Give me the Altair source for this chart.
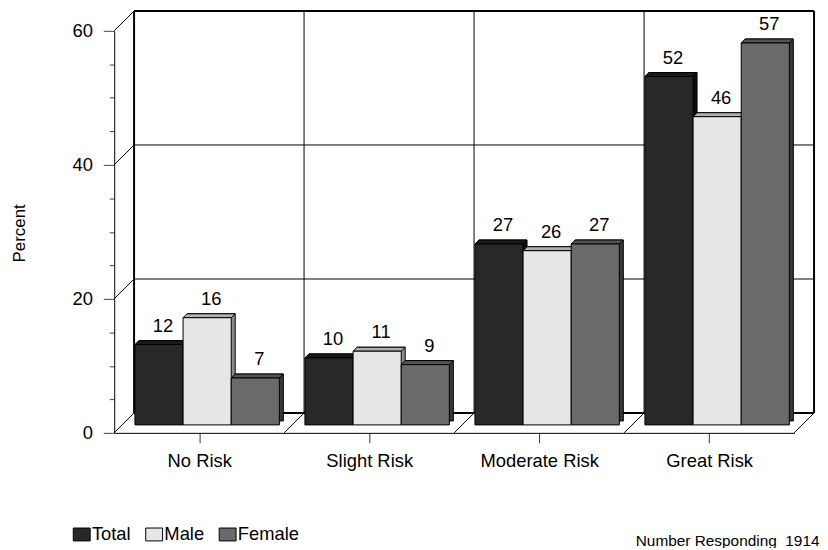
import json
import altair as alt
import pandas as pd

# ---------------- data ----------------
categories = ["No Risk", "Slight Risk", "Moderate Risk", "Great Risk"]
series = ["Total", "Male", "Female"]
total = [12, 10, 27, 52]
male = [16, 11, 26, 46]
female = [7, 9, 27, 57]
y_major = [0, 20, 40, 60]
y_minor_step = 5
note = "Number Responding\u00a0 1914"
y_title = "Percent"

# ---------------- style ----------------
front_colors = ["#282828", "#e6e6e6", "#6a6a6a"]
top_colors = ["#1a1a1a", "#b0b0b0", "#545454"]
side_colors = ["#0d0d0d", "#8c8c8c", "#383838"]
FONT = "Liberation Sans"
W, H = 685, 405
D = 20            # depth of the back wall / floor
BX, BY = 8, -8    # offset of the bars' front faces
BD = 4            # depth of each bar
PAD_OUT = 0.2655
NS = len(series)
sub_w = (W / len(categories)) / (NS + 2 * PAD_OUT)
half = sub_w / 2
d = BD / half
TOP_PATH = f"M -1 0 L 1 0 L {1 + d:.4f} {-d:.4f} L {-1 + d:.4f} {-d:.4f} Z"
TOP_SIZE = sub_w ** 2
LEG_PATH = "M -1 -0.765 L 1 -0.765 L 1 0.765 L -1 0.765 Z"

rows = []
for s, vals in zip(series, [total, male, female]):
    for c, v in zip(categories, vals):
        rows.append({"category": c, "series": s, "value": v})
bars_df = pd.DataFrame(rows)

n = len(categories)
ymax = y_major[-1]
major_step = y_major[1] - y_major[0]
bounds_df = pd.DataFrame({"b": list(range(n + 1))})
grid_df = pd.DataFrame({"v": y_major})

yscale = alt.Scale(domain=[0, ymax], nice=False, zero=True)
xq = alt.Scale(domain=[0, n], nice=False, zero=False)

xaxis = alt.Axis(
    title=note, values=[i + 0.5 for i in range(n)],
    labelExpr=f"{json.dumps(categories)}[floor(datum.value)]",
    labelAngle=0, labelFont=FONT, labelFontSize=18.5, labelColor="black",
    labelPadding=9, labelOverlap=False, tickSize=10, tickColor="#333333",
    domainColor="black", domainWidth=1,
    titleFont=FONT, titleFontSize=15.5, titleFontWeight="normal", titleColor="black",
    titleX=710, titleY=113, titleAlign="right", titleBaseline="alphabetic", grid=False,
)
yaxis = alt.Axis(
    values=list(range(0, ymax + 1, y_minor_step)),
    labelExpr=f"datum.value % {major_step} === 0 ? datum.label : ''",
    labelOverlap=False,
    title=y_title, grid=False, domainColor="black", domainWidth=1, tickColor="#444444",
    tickSize={"condition": {"test": f"datum.value % {major_step} === 0", "value": 11}, "value": 5},
    labelFont=FONT, labelFontSize=18.5, labelColor="black", labelPadding=11,
    titleFont=FONT, titleFontSize=17, titleFontWeight="normal", titleColor="black",
    titleX=-90, titleY=203.5, titleAlign="center", titleBaseline="alphabetic",
)


def X(field):
    return alt.X(field, scale=xq, axis=xaxis)


def Y(field):
    return alt.Y(field, scale=yscale, axis=yaxis)


# ---------------- 3-D frame ----------------
back_vert = alt.Chart(bounds_df).transform_calculate(
    y0="0", y1=str(ymax), w=f"datum.b == 0 || datum.b == {n} ? 2 : 1"
).mark_rule(color="black", xOffset=D, yOffset=-D, y2Offset=-D).encode(
    x=X("b:Q"), y=Y("y0:Q"), y2="y1:Q",
    strokeWidth=alt.StrokeWidth("w:Q", scale=None),
)

back_horiz = alt.Chart(grid_df).transform_calculate(
    x0="0", x1=str(n), w=f"datum.v == 0 || datum.v == {ymax} ? 2 : 1"
).mark_rule(color="black", xOffset=D, x2Offset=D, yOffset=-D).encode(
    x=X("x0:Q"), x2="x1:Q", y=Y("v:Q"),
    strokeWidth=alt.StrokeWidth("w:Q", scale=None),
)

left_diag = alt.Chart(grid_df).transform_calculate(x0="0").mark_rule(
    color="black", strokeWidth=1, x2Offset=D, y2Offset=-D
).encode(x=X("x0:Q"), x2="x0:Q", y=Y("v:Q"), y2="v:Q")

floor_diag = alt.Chart(bounds_df).transform_filter("datum.b > 0").transform_calculate(
    y0="0"
).mark_rule(color="black", strokeWidth=1, x2Offset=D, y2Offset=-D).encode(
    x=X("b:Q"), x2="b:Q", y=Y("y0:Q"), y2="y0:Q"
)

# ---------------- bars ----------------
den = NS + 2 * PAD_OUT
base = alt.Chart(bars_df).transform_calculate(
    ci=f"indexof({json.dumps(categories)}, datum.category)",
    si=f"indexof({json.dumps(series)}, datum.series)",
).transform_calculate(
    xl=f"datum.ci + ({PAD_OUT} + datum.si) / {den}",
    zero="0",
).transform_calculate(
    xr=f"datum.xl + 1 / {den}",
).transform_calculate(
    xc="(datum.xl + datum.xr) / 2",
)

side = base.mark_rect(
    stroke="black", strokeWidth=1, opacity=1,
    xOffset=BX + BD, x2Offset=BX + BD, yOffset=BY - BD, y2Offset=BY - BD,
).encode(
    x=X("xl:Q"), x2="xr:Q", y=Y("value:Q"), y2="zero:Q",
    color=alt.Color("series:N", sort=series,
                    scale=alt.Scale(domain=series, range=side_colors), legend=None),
)

top = base.mark_point(
    shape=TOP_PATH, size=TOP_SIZE, filled=True, stroke="black", strokeWidth=1,
    opacity=1, xOffset=BX, yOffset=BY,
).encode(
    x=X("xc:Q"), y=Y("value:Q"),
    color=alt.Color("series:N", sort=series,
                    scale=alt.Scale(domain=series, range=top_colors), legend=None),
)

legend = alt.Legend(
    orient="none", legendX=-42, legendY=498, direction="horizontal", title=None,
    symbolType=LEG_PATH, symbolSize=289, symbolStrokeColor="black", symbolStrokeWidth=1,
    symbolOpacity=1, labelFont=FONT, labelFontSize=18.5, labelColor="black",
    labelOffset=1, columnPadding=12, padding=0,
)

front = base.mark_rect(
    stroke="black", strokeWidth=1, opacity=1,
    xOffset=BX, x2Offset=BX, yOffset=BY, y2Offset=BY,
).encode(
    x=X("xl:Q"), x2="xr:Q", y=Y("value:Q"), y2="zero:Q",
    color=alt.Color("series:N", sort=series,
                    scale=alt.Scale(domain=series, range=front_colors), legend=legend),
)

labels = base.mark_text(
    xOffset=BX + 4, yOffset=-21, baseline="alphabetic", align="center",
    font=FONT, fontSize=18.5, color="black",
).encode(x=X("xc:Q"), y=Y("value:Q"), text="value:Q")

chart = alt.layer(
    back_vert, back_horiz, left_diag, floor_diag, side, top, front, labels
).resolve_scale(color="independent").properties(
    width=W, height=H,
    padding={"left": 107, "top": 21, "right": 26, "bottom": 114},
    autosize=alt.AutoSizeParams(type="none"),
    background="white",
).configure_view(stroke="transparent")

chart.save("out.html", embed_options={"renderer": "svg", "actions": False})
